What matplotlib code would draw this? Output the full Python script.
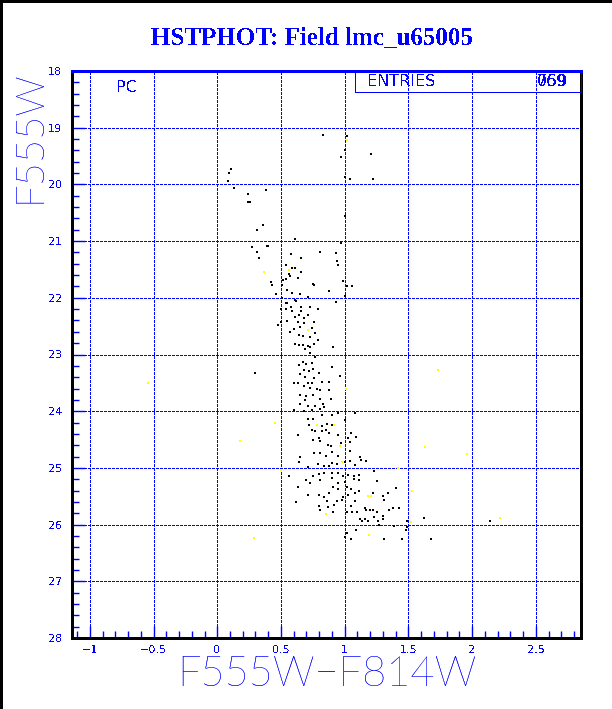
import matplotlib
matplotlib.use("Agg")
import matplotlib.pyplot as plt
from matplotlib.lines import Line2D
from matplotlib.patches import Rectangle

BLUE = "#0000ff"

# the original is drawn without anti-aliasing
plt.rcParams["text.antialiased"] = False
plt.rcParams["lines.antialiased"] = False
plt.rcParams["patch.antialiased"] = False

# colour (F555W-F814W) and magnitude (F555W), black stars
color_black = [
  0.83, 1.02, 1.00, 1.21, 0.97, 0.11, 0.09, 0.085, 1.005, 1.04, 1.22, 0.13, 0.38, 0.24,
  0.24, 0.26, 1.005, 0.36, 0.31, 0.97, 0.61, 0.27, 0.39, 0.40, 0.31, 0.33, 0.58, 0.66,
  0.81, 0.93, 0.94, 0.95, 0.54, 0.59, 0.61, 0.56, 0.66, 0.57, 0.63, 0.52, 0.51, 0.42,
  0.43, 0.54, 0.75, 0.76, 0.99, 1.02, 1.06, 0.88, 0.55, 0.46, 0.59, 0.65, 0.71, 1.00,
  0.51, 0.54, 0.55, 0.61, 0.62, 0.93, 0.58, 0.66, 0.73, 0.79, 0.50, 0.54, 0.59, 0.66,
  0.64, 0.71, 0.68, 0.61,
  0.30, 0.48, 0.50, 0.55, 0.60, 0.63, 0.68, 0.76, 0.65, 0.57, 0.74, 0.77, 0.64, 0.67,
  0.73, 0.79, 0.61, 0.64, 0.67, 0.71, 0.73, 0.76, 0.91, 0.69, 0.73,
  0.67, 0.70, 0.74, 0.77, 0.64, 0.68, 0.72, 0.75, 0.80, 0.90, 0.96, 0.65, 0.69, 0.76,
  0.60, 0.63, 0.71, 0.74, 0.82, 0.88, 0.68, 0.73, 0.78, 0.81, 0.88, 0.65, 0.70, 0.75,
  0.81, 0.89, 0.60, 0.65, 0.69, 0.71, 0.77, 0.83, 0.84, 0.68, 0.74, 0.81, 0.95, 1.08,
  0.71, 0.75, 0.82, 0.90, 1.00, 0.72, 0.82, 0.86, 0.90, 0.63, 0.74, 0.77, 0.82, 0.85,
  0.88, 0.95, 1.05, 1.09, 1.03, 0.80, 0.75, 0.81, 0.87, 0.89, 0.97, 1.04, 0.76, 0.81,
  0.90, 0.95, 0.85, 1.04, 1.12, 0.65, 0.64, 0.79, 0.84, 0.88, 0.90, 0.94, 1.00, 1.04,
  1.08, 1.13, 1.17, 0.71,
  0.56, 0.75, 0.80, 0.84, 0.90, 0.95, 0.99, 1.03, 1.07, 1.11, 1.23, 0.70, 0.73, 0.81,
  0.90, 0.95, 1.00, 1.07, 1.11, 1.25, 0.63, 0.91, 0.95, 1.02, 1.05, 1.11, 1.40, 0.71,
  0.80, 0.88, 0.99, 1.03, 1.08, 1.22, 0.84, 1.30, 1.34, 0.62, 0.86, 0.94, 0.98, 1.08,
  1.31, 0.80, 0.87, 0.92, 1.05, 1.16, 1.22, 1.38, 1.35, 1.43, 0.81, 0.91, 1.02, 1.06,
  1.10, 1.17, 1.20, 1.25, 1.30, 1.23, 1.16, 1.12, 1.14, 1.18, 1.26, 1.30, 1.62, 1.49,
  1.27, 1.39, 1.48, 1.09, 1.02, 1.05, 1.31, 1.45, 1.68, 1.00, 2.14, 1.49,
]
mag_black = [
  19.13, 19.15, 19.40, 19.46, 19.52, 19.73, 19.80, 19.94, 19.87, 19.90, 19.91, 20.07, 20.10, 20.17,
  20.31, 20.31, 20.56, 20.72, 20.80, 21.03, 20.97, 21.10, 21.09, 21.08, 21.20, 21.29, 21.23, 21.29,
  21.19, 21.21, 21.35, 21.42, 21.42, 21.48, 21.48, 21.58, 21.55, 21.61, 21.65, 21.68, 21.77, 21.72,
  21.77, 21.66, 21.75, 21.77, 21.71, 21.80, 21.80, 21.88, 21.86, 21.93, 21.91, 21.93, 21.98, 21.96,
  22.00, 22.09, 22.10, 22.03, 22.06, 22.08, 22.16, 22.16, 22.16, 22.20, 22.19, 22.19, 22.24, 22.23,
  22.30, 22.30, 22.35, 22.33,
  23.32, 22.48, 22.43, 22.41, 22.55, 22.42, 22.44, 22.43, 22.51, 22.60, 22.54, 22.62, 22.65, 22.67,
  22.69, 22.75, 22.81, 22.84, 22.84, 22.85, 22.87, 22.81, 22.87, 22.91, 22.97,
  23.13, 23.16, 23.15, 23.04, 23.19, 23.28, 23.29, 23.25, 23.33, 23.22, 23.38, 23.35, 23.39, 23.41,
  23.50, 23.50, 23.51, 23.50, 23.49, 23.48, 23.55, 23.59, 23.60, 23.62, 23.63, 23.71, 23.74, 23.71,
  23.79, 23.79, 23.98, 23.87, 23.81, 23.90, 23.91, 23.88, 23.93, 24.00, 23.98, 23.96, 24.03, 24.03,
  24.14, 24.14, 24.07, 24.06, 24.15, 24.25, 24.26, 24.22, 24.24, 24.42, 24.33, 24.35, 24.35, 24.34,
  24.39, 24.42, 24.38, 24.45, 24.48, 24.48, 24.51, 24.53, 24.59, 24.62, 24.56, 24.55, 24.74, 24.73,
  24.72, 24.79, 24.79, 24.70, 24.80, 24.80, 24.89, 24.93, 24.97, 24.97, 24.92, 24.93, 24.89, 24.87,
  24.95, 24.86, 24.88, 24.99,
  25.14, 25.15, 25.11, 25.09, 25.09, 25.09, 25.15, 25.12, 25.14, 25.12, 25.06, 25.21, 25.26, 25.21,
  25.18, 25.27, 25.24, 25.20, 25.22, 25.23, 25.34, 25.34, 25.37, 25.33, 25.38, 25.40, 25.36, 25.47,
  25.47, 25.45, 25.51, 25.48, 25.44, 25.45, 25.52, 25.50, 25.45, 25.60, 25.58, 25.58, 25.56, 25.59,
  25.56, 25.68, 25.69, 25.65, 25.68, 25.71, 25.74, 25.71, 25.74, 25.70, 25.75, 25.78, 25.78, 25.78,
  25.78, 25.75, 25.74, 25.77, 25.85, 25.86, 25.91, 25.90, 25.94, 25.94, 25.94, 25.91, 25.88, 25.94,
  26.01, 26.03, 26.09, 26.10, 26.15, 26.25, 26.25, 26.26, 26.25, 26.22, 25.93, 26.04,
]

# faint yellow stars
color_yellow = [1.02, 0.37, 0.56, 0.71, 1.01, 1.73, 0.45, 0.78, 0.92, 0.96, 1.63, 0.98,
                0.50, 1.42, 1.53, 1.18, 1.21, 0.85, 1.52, 1.19, 0.29, 2.22, -0.54, 0.18,
                1.96]
mag_yellow = [19.22, 21.54, 21.51, 22.56, 23.61, 23.27, 24.20, 24.24, 24.24, 24.62, 24.64, 24.90,
              25.04, 25.00, 25.40, 25.49, 25.49, 25.81, 25.96, 26.19, 26.24, 25.88, 23.50, 24.53,
              24.75]

x_ticks = [-1, -0.5, 0, 0.5, 1, 1.5, 2, 2.5]
x_tick_labels = ["\u22121", "\u22120.5", "0", "0.5", "1", "1.5", "2", "2.5"]
y_ticks = list(range(18, 29))

W, H = 612, 709
fig = plt.figure(figsize=(W / 100, H / 100), dpi=100)
ax = fig.add_axes([72 / W, 1 - 638 / H, 509 / W, 567 / H])

ax.set_xlim(-1.14, 2.855)
ax.set_ylim(28, 18)

# dotted blue grid at the major ticks
for xv in x_ticks:
  ax.axvline(xv, color=BLUE, lw=0.8, ls=(0, (2.2, 1.6)), zorder=1)
for yv in y_ticks[1:-1]:
  ax.axhline(yv, color=BLUE, lw=0.8, ls=(0, (2.2, 1.6)), zorder=1)

ax.scatter(color_black, mag_black, s=4.5, marker="s", c="black", linewidths=0,
           antialiased=False, zorder=3)
ax.scatter(color_yellow, mag_yellow, s=2.5, marker="s", c="#ffff00", linewidths=0,
           antialiased=False, zorder=3)

ax.set_xticks(x_ticks)
ax.set_xticklabels(x_tick_labels)
ax.set_yticks(y_ticks)
ax.set_xticks([v / 10 for v in range(-11, 29)], minor=True)
ax.set_yticks([18 + v / 5 for v in range(51)], minor=True)
ax.tick_params(which="both", direction="in", color=BLUE, labelcolor=BLUE,
               labelsize=8, top=False, right=False)
ax.tick_params(which="major", length=9, width=1)
ax.tick_params(which="minor", length=5, width=1)
ax.tick_params(axis="x", pad=5)
ax.tick_params(axis="y", pad=7)

for side in ["left", "bottom", "right"]:
  ax.spines[side].set_color("black")
  ax.spines[side].set_linewidth(1.0)
ax.spines["top"].set_color(BLUE)
ax.spines["top"].set_linewidth(0.8)

# stats box
ax.add_patch(Rectangle((0.556, 0.963), 0.444, 0.037, transform=ax.transAxes,
                       fill=False, edgecolor=BLUE, lw=0.6, zorder=4, clip_on=False))
fig.text(367 / W, 1 - 82 / H, "ENTRIES", color=BLUE, fontsize=11.5, va="center", ha="left")
fig.text(537 / W, 1 - 82 / H, "769", color=BLUE, fontsize=11.5, va="center", ha="left")
fig.text(537 / W, 1 - 82 / H, "059", color=BLUE, fontsize=11.5, va="center", ha="left")
fig.text(127 / W, 1 - 87 / H, "PC", color=BLUE, fontsize=11.5, va="center", ha="center")

fig.text(312 / W, 1 - 38 / H, "HSTPHOT: Field lmc_u65005", color=BLUE,
         family="Liberation Serif", weight="bold", fontsize=18, ha="center", va="center")

# thin axis titles, drawn twice so the hairline strokes come out full blue
for _ in range(2):
  fig.text(327 / W, 1 - 675 / H, "F555W\u2212F814W", color=BLUE, family="Lato",
           weight="light", fontsize=30, ha="center", va="center", antialiased=True)
  fig.text(29 / W, 1 - 137 / H, "F555W", color=BLUE, family="Lato", weight="light",
           fontsize=29, rotation=90, ha="center", va="center", antialiased=True)

# black border on left and top of the canvas
fig.add_artist(Line2D([0.0015, 0.0015], [0, 1], color="black", lw=1.5, transform=fig.transFigure))
fig.add_artist(Line2D([0, 1], [0.9985, 0.9985], color="black", lw=1.5, transform=fig.transFigure))

fig.savefig("out.png", dpi=100)
